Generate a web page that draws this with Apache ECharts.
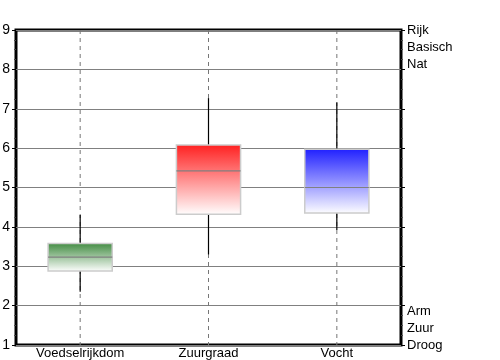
<!DOCTYPE html>
<html><head><meta charset="utf-8">
<script src="https://cdn.jsdelivr.net/npm/echarts@6/dist/echarts.min.js"></script>
<style>html,body{margin:0;padding:0;background:#fff}#c{width:500px;height:360px}</style>
</head><body><div id="c"></div>
<script>
var categories = ['Voedselrijkdom', 'Zuurgraad', 'Vocht'];
var lowValues = [2.35, 3.30, 3.92];
var q1Values = [2.88, 4.32, 4.35];
var medianValues = [3.23, 5.42, 5.00];
var q3Values = [3.58, 6.08, 5.97];
var highValues = [4.30, 7.27, 7.16];
var topColors = ['#3f8a3f', '#ff1f1f', '#1f1fff'];
var leftTicks = [1, 2, 3, 4, 5, 6, 7, 8, 9];
var rightTopLabel = ['Rijk', 'Basisch', 'Nat'];
var rightBottomLabel = ['Arm', 'Zuur', 'Droog'];

var data = categories.map(function (c, i) {
  return [i, lowValues[i], q1Values[i], medianValues[i], q3Values[i], highValues[i]];
});

var chart = echarts.init(document.getElementById('c'), null, {renderer: 'canvas'});
var font = 'Liberation Sans';
chart.setOption({
  animation: false,
  grid: {left: 16, right: 99, top: 30, bottom: 15, containLabel: false, outerBoundsMode: 'none',
    show: true, borderColor: '#000', borderWidth: 3, backgroundColor: 'transparent'},
  xAxis: {
    type: 'category', data: categories,
    axisLine: {show: false}, axisTick: {show: false},
    axisLabel: {color: '#000', fontSize: 13, fontFamily: font, margin: 2},
    splitLine: {show: false}
  },
  yAxis: [{
    type: 'value', min: leftTicks[0], max: leftTicks[leftTicks.length - 1], interval: 1,
    axisLine: {show: false},
    axisTick: {show: true, length: 4, lineStyle: {color: '#000', width: 1}},
    minorTick: {show: true, splitNumber: 4, length: 2, lineStyle: {color: '#444'}},
    axisLabel: {color: '#000', fontSize: 14, fontFamily: font, margin: 6},
    splitLine: {show: true, lineStyle: {color: '#808080', width: 1}}
  }, {
    type: 'value', position: 'right', min: 1, max: 9, interval: 1,
    axisLine: {show: false},
    axisTick: {show: true, length: 4, lineStyle: {color: '#000', width: 1}},
    minorTick: {show: true, splitNumber: 4, length: 2, lineStyle: {color: '#444'}},
    axisLabel: {
      color: '#000', fontSize: 13, fontFamily: font, margin: 6, lineHeight: 17,
      formatter: function (v) {
        if (v === 9) return '\n\n' + rightTopLabel.join('\n');
        if (v === 1) return rightBottomLabel.join('\n') + '\n\n';
        return '';
      }
    },
    splitLine: {show: false}
  }],
  series: [{
    type: 'custom',
    data: data,
    encode: {x: 0, y: [1, 2, 3, 4, 5]},
    z: 3,
    renderItem: function (params, api) {
      var i = api.value(0);
      var lowP = api.coord([i, api.value(1)]);
      var q1P = api.coord([i, api.value(2)]);
      var medP = api.coord([i, api.value(3)]);
      var q3P = api.coord([i, api.value(4)]);
      var highP = api.coord([i, api.value(5)]);
      var bw = api.size([1, 0])[0] * 0.5;
      var cx = lowP[0];
      var cs = params.coordSys;
      var grad = new echarts.graphic.LinearGradient(0, 0, 0, 1, [
        {offset: 0, color: topColors[params.dataIndex]},
        {offset: 1, color: '#ffffff'}
      ]);
      return {type: 'group', children: [
        {type: 'line', shape: {x1: cx, y1: cs.y, x2: cx, y2: cs.y + cs.height},
          style: {stroke: '#777', lineWidth: 1, lineDash: [4, 4]}},
        {type: 'line', shape: {x1: cx, y1: highP[1], x2: cx, y2: lowP[1]},
          style: {stroke: '#000', lineWidth: 1.2}},
        {type: 'rect', shape: {x: cx - bw / 2, y: q3P[1], width: bw, height: q1P[1] - q3P[1]},
          style: {fill: grad, stroke: '#cccccc', lineWidth: 1.5}},
        {type: 'line', shape: {x1: cx - bw / 2, y1: medP[1], x2: cx + bw / 2, y2: medP[1]},
          style: {stroke: '#808080', lineWidth: 1.2}}
      ]};
    }
  }]
});
</script></body></html>
